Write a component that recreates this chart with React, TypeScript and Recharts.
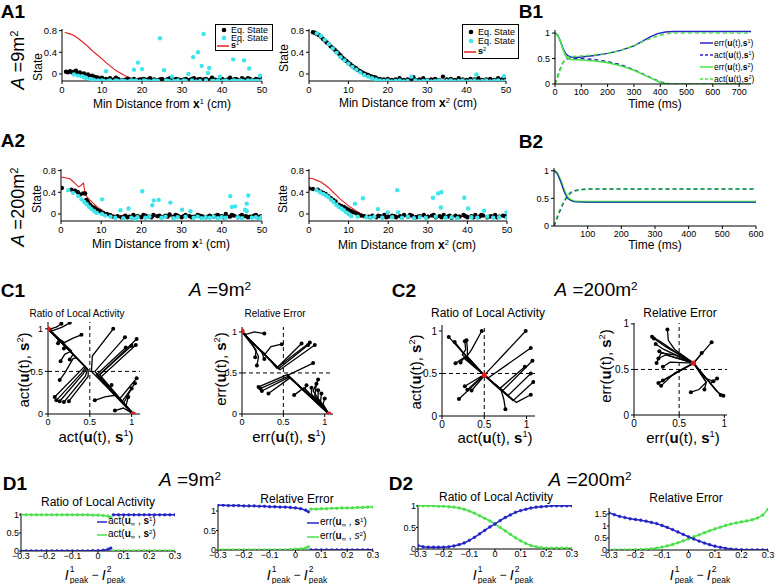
import React from 'react';
import { ComposedChart, Line, Scatter, XAxis, YAxis, ReferenceLine } from 'recharts';

const FONT = '"Liberation Sans", Arial, Helvetica, sans-serif';
const BLUE = '#2424c4';
const GREEN = '#4be04b';
const CYAN = '#3fe4ec';
const RED = '#e01e1e';

type Pt = [number, number];
const toXY = (a: Pt[]) => a.map(([x, y]) => ({ x, y }));
const zip = (xs: number[], ys: number[]) => xs.map((x, i) => ({ x, y: ys[i] }));

// ---------- A panels: equilibrium states vs distance ----------
const distTicks = [0, 10, 20, 30, 40, 50];
const stateTicks = [0, 0.4, 0.8];

const a1LBlack: Pt[] = [
  [1, 0.04], [1.5, 0.03], [2, 0.05], [2.5, 0.03], [3, 0.04], [3.5, 0.06], [4, 0.02], [4.5, 0.03], [5, 0.0], [5.5, 0.01],
  [6, -0.02], [6.5, -0.01], [7, -0.04], [7.5, -0.03], [8, -0.05], [8.5, -0.06], [9, -0.07], [10, -0.07], [11, -0.09],
  [12, -0.08], [13, -0.1], [13.5, -0.07], [14, -0.09], [15, -0.11], [15.5, -0.12], [16, -0.1], [16.5, -0.09], [17, -0.12],
  [17.5, -0.11], [18, -0.09], [18.5, -0.13], [19, -0.11], [19.5, -0.1], [20, -0.1], [20.5, -0.09], [21, -0.12], [21.5, -0.1],
  [22, -0.08], [22.5, -0.11], [23, -0.1], [23.5, -0.12], [24, -0.12], [24.5, -0.1], [25, -0.09], [25.5, -0.12], [26, -0.11],
  [26.5, -0.09], [27, -0.08], [27.5, -0.12], [28, -0.11], [28.5, -0.09], [29, -0.1], [29.5, -0.11], [30, -0.12], [30.5, -0.1],
  [31, -0.09], [31.5, -0.12], [32, -0.11], [32.5, -0.09], [33, -0.08], [33.5, -0.12], [34, -0.1], [34.5, -0.09], [35, -0.12],
  [35.5, -0.1], [36, -0.09], [36.5, -0.12], [37, -0.11], [37.5, -0.07], [38, -0.1], [38.5, -0.11], [39, -0.12], [39.5, -0.09],
  [40, -0.09], [40.5, -0.12], [41, -0.11], [41.5, -0.1], [42, -0.07], [42.5, -0.12], [43, -0.1], [43.5, -0.09], [44, -0.12],
  [44.5, -0.11], [45, -0.08], [45.5, -0.1], [46, -0.11], [46.5, -0.08], [47, -0.09], [47.5, -0.11], [48, -0.12], [48.5, -0.09],
  [49, -0.1], [49.5, -0.12], [50, -0.08],
];
const a1LCyan: Pt[] = [
  [3, -0.01], [4, -0.03], [5, -0.04], [5.5, -0.06], [6, -0.07], [7, -0.09], [7.5, -0.1], [8, -0.11], [9, -0.12], [10, -0.12],
  [10.5, -0.13], [11, 0.05], [11.5, -0.13], [12, -0.12], [13, -0.14], [13.5, -0.12], [14, -0.13], [15, -0.12], [15.5, -0.13],
  [16, -0.14], [17, -0.13], [17.5, -0.12], [18, 0.08], [18.5, -0.12], [19, 0.21], [19.5, -0.14], [20, 0.09], [20.5, -0.12],
  [21, -0.13], [21.5, -0.14], [22, -0.14], [23, -0.12], [23.5, -0.13], [24, -0.13], [24.5, 0.66], [25.5, 0.07], [26, -0.12],
  [26.5, -0.13], [27, -0.14], [27.5, -0.05], [28, -0.13], [28.5, -0.14], [29, -0.12], [30, -0.14], [30.5, -0.12], [31, -0.13],
  [31.6, 0.0], [32.5, -0.12], [32.8, 0.31], [33.5, -0.14], [34, 0.4], [34.5, -0.13], [34.9, 0.15], [35.4, 0.74], [36, -0.12],
  [36.5, 0.02], [36.8, 0.11], [37.5, -0.13], [38, -0.13], [39, -0.12], [39.5, -0.05], [40, -0.14], [40.5, -0.13], [41, -0.12],
  [41.5, -0.14], [42.8, 0.27], [42.5, -0.13], [43, -0.12], [43.5, -0.13], [44, -0.14], [44.5, -0.12], [45, -0.13],
  [45.5, 0.25], [45.5, -0.14], [46.5, -0.12], [46.8, 0.1], [47.5, -0.12], [48, -0.14], [48.5, -0.13], [49, -0.13],
  [49.5, -0.03], [50, -0.12],
];
const a1LRed: Pt[] = [
  [0.7, 0.77], [1, 0.76], [2, 0.74], [3, 0.71], [4, 0.66], [5, 0.6], [6, 0.54], [7, 0.47], [8, 0.4], [9, 0.34], [10, 0.28],
  [11, 0.21], [12, 0.15], [13, 0.09], [14, 0.04], [15, 0.0], [16, -0.04], [17, -0.07], [18, -0.09], [18.5, -0.12],
  [19, -0.08], [19.5, -0.13], [20, -0.09], [20.5, -0.12], [21, -0.08], [21.5, -0.13], [22, -0.1], [22.5, -0.12], [23, -0.08],
  [23.5, -0.13], [24, -0.09], [24.5, -0.12], [25, -0.1], [25.5, -0.13], [26, -0.08], [26.5, -0.12], [27, -0.09], [27.5, -0.13],
  [28, -0.1], [28.5, -0.12], [29, -0.08], [29.5, -0.13], [30, -0.09], [30.5, -0.12], [31, -0.1], [31.5, -0.13], [32, -0.08],
  [32.5, -0.12], [33, -0.09], [33.5, -0.13], [34, -0.1], [34.5, -0.12], [35, -0.08], [35.5, -0.13], [36, -0.09], [36.5, -0.12],
  [37, -0.1], [37.5, -0.13], [38, -0.08], [38.5, -0.12], [39, -0.09], [39.5, -0.13], [40, -0.1], [40.5, -0.12], [41, -0.08],
  [41.5, -0.13], [42, -0.09], [42.5, -0.12], [43, -0.1], [43.5, -0.13], [44, -0.08], [44.5, -0.12], [45, -0.09], [45.5, -0.13],
  [46, -0.1], [46.5, -0.12], [47, -0.08], [47.5, -0.13], [48, -0.09], [48.5, -0.12], [49, -0.1], [49.5, -0.13], [50, -0.09],
];

const a1RBlack: Pt[] = [
  [1, 0.77], [1.5, 0.76], [2, 0.74], [2.5, 0.72], [3, 0.69], [3.5, 0.65], [4, 0.62], [4.5, 0.58], [5, 0.55], [5.5, 0.51],
  [6, 0.48], [6.5, 0.45], [7, 0.41], [7.5, 0.38], [8, 0.34], [8.5, 0.3], [9, 0.27], [9.5, 0.24], [10, 0.21], [10.5, 0.18],
  [11, 0.15], [11.5, 0.12], [12, 0.1], [12.5, 0.07], [13, 0.05], [13.5, 0.03], [14, 0.01], [14.5, -0.01], [15, -0.02],
  [15.5, -0.04], [16, -0.05], [16.5, -0.06], [17, -0.07], [18, -0.09], [19, -0.1], [20, -0.09], [21, -0.11], [22, -0.1],
  [23, -0.08], [24, -0.11], [25, -0.1], [26, -0.09], [26.5, -0.06], [27, -0.11], [28, -0.1], [29, -0.08], [30, -0.11],
  [31, -0.1], [32, -0.09], [33, -0.11], [34, -0.05], [35, -0.1], [36, -0.09], [37, -0.11], [38, -0.08], [39, -0.1],
  [40, -0.11], [41, -0.09], [42, -0.1], [43, -0.08], [44, -0.11], [45, -0.1], [46, -0.09], [47, -0.11], [48, -0.08],
  [49, -0.1], [50, -0.09],
];
const a1RCyan: Pt[] = [
  [2, 0.75], [3, 0.7], [4, 0.63], [5, 0.55], [6, 0.47], [7, 0.39], [8, 0.31], [9, 0.25], [10, 0.19], [11, 0.13], [12, 0.08],
  [13, 0.03], [14, -0.02], [15, -0.05], [16, -0.08], [17, -0.1], [18, -0.12], [19, -0.13], [20, -0.12], [21, -0.14],
  [22, -0.13], [23, -0.12], [24, -0.14], [25, -0.13], [26, -0.05], [27, -0.12], [28, -0.14], [29, -0.13], [30, -0.12],
  [31, -0.14], [32, -0.13], [33, -0.12], [34, -0.14], [35, -0.13], [36, -0.12], [37, -0.14], [38, -0.13], [39, -0.12],
  [40, -0.14], [41, -0.13], [42, -0.12], [42.5, -0.01], [43, -0.14], [44, -0.13], [45, -0.12], [46, -0.14], [47, -0.13],
  [48, -0.12], [49, -0.14], [49.5, -0.04], [50, -0.13],
];
const a1RRed: Pt[] = [
  [1, 0.77], [2, 0.74], [3, 0.69], [4, 0.62], [5, 0.55], [6, 0.48], [7, 0.41], [8, 0.34], [9, 0.27], [10, 0.21], [11, 0.15],
  [12, 0.1], [13, 0.05], [14, 0.01], [15, -0.02], [16, -0.05], [17, -0.07], [18, -0.09], [19, -0.1], [20, -0.12], [21, -0.09],
  [22, -0.12], [23, -0.1], [24, -0.12], [25, -0.09], [26, -0.11], [27, -0.12], [28, -0.09], [29, -0.12], [30, -0.1],
  [31, -0.12], [32, -0.09], [33, -0.11], [34, -0.12], [35, -0.09], [36, -0.12], [37, -0.1], [38, -0.12], [39, -0.09],
  [40, -0.11], [41, -0.12], [42, -0.09], [43, -0.12], [44, -0.1], [45, -0.12], [46, -0.09], [47, -0.11], [48, -0.12],
  [49, -0.09], [50, -0.11],
];

const a2LBlack: Pt[] = [
  [0.2, 0.48], [2.6, 0.45], [3.5, 0.43], [4.2, 0.4], [4.7, 0.36], [5.5, 0.38], [6, 0.38], [6.3, 0.26], [6.6, 0.23], [6.8, 0.2],
  [7.2, 0.17], [7.6, 0.14], [8.1, 0.12], [8.5, 0.1], [9.1, 0.07], [9.7, 0.05], [10.5, 0.02], [11.4, 0.0], [12.2, -0.02],
  [13, -0.05], [14, -0.04], [15, -0.06], [16, -0.03], [16.5, -0.06], [17, -0.05], [18, -0.02], [18.5, -0.05], [19, -0.04],
  [20, -0.06], [20.5, -0.02], [21, -0.03], [22, -0.05], [22.5, -0.06], [23, -0.02], [24, -0.04], [24.5, -0.03], [25, -0.06],
  [26, -0.03], [26.5, -0.05], [27, -0.01], [28, -0.05], [28.5, -0.02], [29, -0.03], [30, -0.06], [30.5, -0.04], [31, -0.02],
  [32, -0.04], [32.5, -0.06], [33, -0.05], [34, -0.02], [34.5, -0.03], [35, -0.04], [36, -0.06], [36.5, -0.05], [37, -0.03],
  [38, -0.05], [38.5, -0.03], [39, -0.02], [40, -0.04], [40.5, -0.06], [41, 0.0], [42, -0.05], [42.5, -0.02], [43, -0.03],
  [44, -0.06], [44.5, -0.04], [45, -0.02], [46, -0.04], [46.5, -0.06], [47, -0.05], [48, -0.03], [48.5, -0.02], [49, -0.06],
  [49.5, -0.05], [50, -0.04],
];
const a2LCyan: Pt[] = [
  [1.8, 0.44], [3, 0.39], [4.3, 0.33], [5.1, 0.27], [5.8, 0.22], [6.4, 0.18], [7, 0.13], [7.6, 0.09], [8.3, 0.05], [8.9, 0.02],
  [10.2, 0.27], [10.2, 0.0], [11, -0.03], [12.3, -0.05], [13.5, -0.07], [14.8, 0.07], [15.5, -0.08], [16.8, 0.1], [17.5, -0.07],
  [18.4, -0.09], [19, -0.06], [20.2, 0.42], [21, -0.07], [22, -0.05], [22.7, 0.16], [23.1, 0.25], [24.3, 0.26], [25, -0.07],
  [26, -0.05], [27.2, 0.21], [28, -0.08], [29, -0.06], [30.1, 0.08], [31, -0.05], [32.2, 0.05], [33, -0.07], [34, -0.05],
  [35, -0.08], [36, -0.06], [37, -0.07], [38, -0.05], [39, -0.08], [40, -0.06], [41, -0.07], [42.1, 0.33], [42.5, 0.13],
  [43.3, 0.14], [44, -0.06], [45, -0.08], [45.8, 0.08], [46.2, 0.19], [46.6, 0.34], [46.2, 0.05], [47.5, -0.07], [48.5, -0.06],
  [49.5, -0.08], [50, -0.05],
];
const a2LRed: Pt[] = [
  [0.2, 0.68], [1, 0.67], [2.2, 0.65], [3, 0.6], [3.8, 0.54], [4.4, 0.5], [5, 0.53], [5.6, 0.57], [5.9, 0.42], [6.2, 0.34],
  [7, 0.27], [8, 0.2], [9, 0.13], [10, 0.08], [11, 0.03], [12, 0.0], [13, -0.02], [14, -0.04], [14.5, -0.02], [15, -0.05],
  [15.5, -0.02], [16, -0.05], [16.5, -0.03], [17, -0.06], [17.5, -0.02], [18, -0.05], [18.5, -0.03], [19, -0.05], [19.5, -0.02],
  [20, -0.06], [20.5, -0.03], [21, -0.05], [21.5, -0.02], [22, -0.05], [22.5, -0.03], [23, -0.06], [23.5, -0.02], [24, -0.05],
  [24.5, -0.03], [25, -0.05], [25.5, -0.02], [26, -0.06], [26.5, -0.03], [27, -0.05], [27.5, -0.02], [28, -0.05], [28.5, -0.03],
  [29, -0.06], [29.5, -0.02], [30, -0.05], [30.5, -0.03], [31, -0.05], [31.5, -0.02], [32, -0.06], [32.5, -0.03], [33, -0.05],
  [33.5, -0.02], [34, -0.05], [34.5, -0.03], [35, -0.06], [35.5, -0.02], [36, -0.05], [36.5, -0.03], [37, -0.05], [37.5, -0.02],
  [38, -0.06], [38.5, -0.03], [39, -0.05], [39.5, -0.02], [40, -0.05], [40.5, -0.03], [41, -0.06], [41.5, -0.02], [42, -0.05],
  [42.5, -0.03], [43, -0.05], [43.5, -0.02], [44, -0.06], [44.5, -0.03], [45, -0.05], [45.5, -0.02], [46, -0.05], [46.5, -0.03],
  [47, -0.06], [47.5, -0.02], [48, -0.05], [48.5, -0.03], [49, -0.05], [49.5, -0.02], [50, -0.05],
];

const a2RBlack: Pt[] = [
  [0, 0.47], [1, 0.46], [2.2, 0.45], [3, 0.41], [3.6, 0.39], [4.2, 0.37], [4.9, 0.33], [5.5, 0.29], [6.1, 0.26], [6.7, 0.23],
  [7.5, 0.17], [8.1, 0.15], [8.8, 0.13], [9.4, 0.1], [10, 0.08], [10.7, 0.05], [11.3, 0.03], [12, 0.01], [12.5, -0.01],
  [13.2, -0.03], [14, -0.04], [15, -0.05], [15.5, -0.06], [16, -0.03], [17, -0.06], [17.5, -0.03], [18, -0.04], [19, -0.02],
  [19.5, -0.06], [20, -0.05], [21, -0.03], [21.5, -0.04], [22, -0.06], [23, -0.04], [23.5, -0.06], [24, -0.02], [25, -0.05],
  [25.5, -0.02], [26, -0.03], [27, -0.06], [27.5, -0.05], [28, -0.04], [29, -0.02], [29.5, -0.06], [30, -0.05], [31, -0.03],
  [31.5, -0.02], [32, -0.06], [33, -0.04], [33.5, -0.06], [34, -0.02], [35, -0.05], [35.5, -0.03], [36, -0.07], [37, -0.03],
  [37.5, -0.07], [38, -0.05], [39, -0.02], [39.5, -0.04], [40, -0.06], [41, -0.04], [41.5, -0.06], [42, -0.02], [43, -0.05],
  [43.5, -0.02], [44, -0.03], [45, -0.06], [45.5, -0.05], [46, -0.04], [47, -0.02], [47.5, -0.06], [48, -0.05], [49, -0.03],
  [49.5, -0.04], [50, -0.06],
];
const a2RCyan: Pt[] = [
  [1.9, 0.44], [2.8, 0.4], [3.6, 0.37], [4.3, 0.34], [4.9, 0.31], [5.6, 0.26], [6.2, 0.22], [6.9, 0.17], [7.5, 0.13], [8.2, 0.1],
  [8.8, 0.07], [9.4, 0.03], [10, 0.0], [10.7, -0.04], [11.6, 0.19], [12.3, -0.05], [13.6, 0.29], [14.5, -0.06], [15.5, -0.07],
  [16.5, -0.05], [17.4, 0.09], [18.5, -0.07], [19.9, 0.03], [21, -0.06], [22.3, 0.44], [22.5, 0.03], [23.5, -0.07], [25, -0.05],
  [26.5, -0.08], [28, -0.06], [29.5, -0.07], [31.3, 0.3], [32, -0.05], [32.6, 0.38], [33.4, 0.4], [33.3, 0.12], [34.5, -0.07],
  [36, -0.06], [37.5, -0.08], [39.2, 0.3], [40.2, 0.1], [41, -0.06], [42.5, -0.07], [44.2, 0.06], [45, -0.05], [46.5, -0.07],
  [48, -0.06], [49.9, 0.03], [50, -0.07],
];
const a2RRed: Pt[] = [
  [0, 0.66], [1, 0.65], [2, 0.62], [3, 0.59], [4, 0.54], [5, 0.48], [6, 0.41], [7, 0.34], [8, 0.27], [9, 0.21], [10, 0.15],
  [11, 0.1], [12, 0.05], [13, 0.01], [14, -0.02], [14.5, -0.05], [15, -0.03], [15.5, -0.06], [16, -0.02], [16.5, -0.05],
  [17, -0.03], [17.5, -0.06], [18, -0.02], [18.5, -0.05], [19, -0.03], [19.5, -0.06], [20, -0.02], [20.5, -0.05], [21, -0.03],
  [21.5, -0.06], [22, -0.02], [22.5, -0.05], [23, -0.03], [23.5, -0.06], [24, -0.02], [24.5, -0.05], [25, -0.03], [25.5, -0.06],
  [26, -0.02], [26.5, -0.05], [27, -0.03], [27.5, -0.06], [28, -0.02], [28.5, -0.05], [29, -0.03], [29.5, -0.06], [30, -0.02],
  [30.5, -0.05], [31, -0.03], [31.5, -0.06], [32, -0.02], [32.5, -0.05], [33, -0.03], [33.5, -0.06], [34, -0.02], [34.5, -0.05],
  [35, -0.03], [35.5, -0.06], [36, -0.02], [36.5, -0.05], [37, -0.03], [37.5, -0.06], [38, -0.02], [38.5, -0.05], [39, -0.03],
  [39.5, -0.06], [40, -0.02], [40.5, -0.05], [41, -0.03], [41.5, -0.06], [42, -0.02], [42.5, -0.05], [43, -0.03], [43.5, -0.06],
  [44, -0.02], [44.5, -0.05], [45, -0.03], [45.5, -0.06], [46, -0.02], [46.5, -0.05], [47, -0.03], [47.5, -0.06], [48, -0.02],
  [48.5, -0.05], [49, -0.03], [49.5, -0.06], [50, -0.03],
];

// ---------- B panels: time courses ----------
const b1Err1: Pt[] = [[0, 1], [10, 0.96], [20, 0.85], [30, 0.7], [40, 0.6], [50, 0.55], [60, 0.53], [80, 0.52], [100, 0.53], [150, 0.56], [200, 0.6], [250, 0.66], [300, 0.75], [330, 0.83], [360, 0.92], [390, 0.99], [420, 1.02], [450, 1.03], [500, 1.03], [745, 1.03]];
const b1Act1: Pt[] = [[0, 0], [10, 0.15], [20, 0.3], [30, 0.42], [40, 0.48], [50, 0.5], [80, 0.5], [100, 0.5], [150, 0.48], [200, 0.44], [250, 0.38], [300, 0.28], [350, 0.16], [400, 0.04], [430, 0.01], [450, 0], [745, 0]];
const b1Err2: Pt[] = [[0, 1], [10, 0.97], [20, 0.85], [30, 0.68], [40, 0.56], [50, 0.5], [60, 0.48], [100, 0.47], [150, 0.45], [200, 0.42], [250, 0.36], [300, 0.27], [350, 0.15], [400, 0.03], [430, 0.0], [745, 0]];
const b1Act2: Pt[] = [[0, 0], [10, 0.12], [20, 0.28], [30, 0.42], [40, 0.5], [50, 0.53], [100, 0.55], [150, 0.57], [200, 0.6], [250, 0.66], [300, 0.75], [350, 0.87], [400, 0.96], [430, 0.99], [450, 1.0], [745, 1.0]];

const b2Err2: Pt[] = [[0, 1], [5, 0.99], [10, 0.95], [20, 0.82], [30, 0.65], [40, 0.52], [50, 0.47], [60, 0.45], [80, 0.44], [100, 0.44], [600, 0.44]];
const b2Err1: Pt[] = [[0, 1], [10, 0.95], [20, 0.8], [30, 0.62], [40, 0.5], [50, 0.46], [60, 0.44], [100, 0.43], [600, 0.43]];
const b2Act2: Pt[] = [[0, 0], [5, 0.08], [10, 0.17], [20, 0.33], [30, 0.45], [40, 0.54], [50, 0.6], [60, 0.63], [80, 0.66], [100, 0.67], [600, 0.67]];
const b2Act1: Pt[] = [[0, 0], [10, 0.15], [20, 0.3], [30, 0.44], [40, 0.55], [50, 0.61], [60, 0.64], [80, 0.66], [100, 0.67], [600, 0.67]];

// ---------- C panels: trajectories (first point = start) ----------
const c1ActPaths: Pt[][] = [
  [[0.16, 1.06], [0.1, 1.02], [0.03, 1.0], [0, 1]],
  [[0.26, 1.07], [0.17, 1.02], [0.06, 0.98], [0, 1]],
  [[0.4, 0.93], [0.3, 0.89], [0.2, 0.84], [0.12, 0.89], [0, 1]],
  [[0.12, 0.83], [0.12, 0.88], [0.06, 0.95], [0, 1]],
  [[0.19, 0.77], [0.2, 0.82], [0.08, 0.93], [0, 1]],
  [[0.15, 0.62], [0.2, 0.7], [0.28, 0.74], [0, 1]],
  [[0.26, 0.64], [0.3, 0.7], [0, 1]],
  [[0.14, 0.4], [0.2, 0.48], [0.3, 0.65], [0.34, 0.66], [0, 1]],
  [[0.08, 0.2], [0.38, 0.5], [0.44, 0.56], [0, 1]],
  [[0.1, 0.16], [0.4, 0.48], [0.45, 0.55], [0, 1]],
  [[0.14, 0.15], [0.42, 0.47], [0.46, 0.54], [0, 1]],
  [[0.19, 0.14], [0.45, 0.45], [0.47, 0.53], [0, 1]],
  [[0.25, 0.15], [0.48, 0.44], [0.48, 0.52], [0, 1]],
  [[0.78, 1.0], [0.53, 0.68], [0.52, 0.5], [1.02, 0]],
  [[0.92, 0.9], [0.56, 0.5], [1.02, 0]],
  [[1.06, 0.88], [0.62, 0.46], [1.02, 0]],
  [[1.05, 0.81], [0.63, 0.43], [1.02, 0]],
  [[1.0, 0.8], [0.6, 0.45], [1.02, 0]],
  [[0.93, 0.78], [0.58, 0.46], [1.02, 0]],
  [[1.06, 0.42], [0.85, 0.17], [1.02, 0]],
  [[1.04, 0.36], [0.88, 0.14], [1.02, 0]],
  [[1.0, 0.3], [0.9, 0.12], [1.02, 0]],
  [[0.96, 0.2], [0.93, 0.09], [1.02, 0]],
  [[0.76, 0.34], [0.74, 0.28], [1.02, 0]],
  [[0.56, 0.16], [0.68, 0.2], [0.8, 0.22], [1.02, 0]],
  [[0.8, 0.04], [0.9, 0.07], [1.02, 0]],
];
const c1ActFixed: Pt[] = [[0, 1], [1.02, 0]];

const c1ErrPaths: Pt[][] = [
  [[0.27, 0.98], [0.15, 1.0], [0.05, 0.97], [0, 1]],
  [[0.48, 0.85], [0.35, 0.82], [0.28, 0.73], [0.2, 0.8], [0, 1]],
  [[0.16, 0.69], [0.17, 0.78], [0, 1]],
  [[0.18, 0.59], [0.2, 0.7], [0.12, 0.86], [0, 1]],
  [[0.27, 0.67], [0.24, 0.75], [0, 1]],
  [[0.72, 0.86], [0.42, 0.56], [0.3, 0.7], [0, 1]],
  [[0.8, 0.84], [0.44, 0.55], [0, 1]],
  [[0.88, 0.84], [0.46, 0.54], [0, 1]],
  [[0.82, 0.87], [0.43, 0.57], [0, 1]],
  [[0.86, 0.62], [0.55, 0.47], [1.05, 0]],
  [[0.2, 0.33], [0.55, 0.48], [1.05, 0]],
  [[0.22, 0.31], [0.56, 0.46], [1.05, 0]],
  [[0.24, 0.28], [0.57, 0.45], [1.05, 0]],
  [[0.32, 0.25], [0.58, 0.44], [1.05, 0]],
  [[0.63, 0.23], [0.75, 0.32], [1.05, 0]],
  [[0.78, 0.35], [0.76, 0.3], [1.05, 0]],
  [[0.84, 0.32], [0.84, 0.24], [1.05, 0]],
  [[0.9, 0.37], [0.88, 0.22], [1.05, 0]],
  [[0.92, 0.29], [0.92, 0.18], [1.05, 0]],
  [[0.96, 0.25], [0.95, 0.15], [1.05, 0]],
  [[1.0, 0.19], [0.98, 0.12], [1.05, 0]],
  [[0.92, 0.42], [0.86, 0.28], [1.05, 0]],
];
const c1ErrFixed: Pt[] = [[0, 1.01], [1.05, 0]];

const c2ActPaths: Pt[][] = [
  [[0.08, 0.93], [0.25, 0.74], [0.5, 0.48]],
  [[0.15, 0.87], [0.24, 0.76], [0.5, 0.48]],
  [[0.27, 0.88], [0.28, 0.78], [0.24, 0.72], [0.5, 0.48]],
  [[0.29, 0.89], [0.3, 0.8], [0.3, 0.7], [0.5, 0.48]],
  [[0.47, 1.0], [0.35, 0.78], [0.28, 0.68], [0.5, 0.48]],
  [[0.16, 0.62], [0.22, 0.66], [0.28, 0.7], [0.5, 0.48]],
  [[0.22, 0.63], [0.26, 0.68], [0.5, 0.48]],
  [[0.99, 1.0], [0.5, 0.48]],
  [[1.05, 0.8], [0.55, 0.45], [0.5, 0.48]],
  [[1.07, 0.65], [0.72, 0.3], [0.5, 0.48]],
  [[1.05, 0.5], [0.78, 0.24], [0.5, 0.48]],
  [[1.08, 0.4], [0.84, 0.18], [0.5, 0.48]],
  [[1.05, 0.25], [0.88, 0.16], [0.5, 0.48]],
  [[0.98, 0.58], [0.68, 0.32], [0.5, 0.48]],
  [[0.2, 0.2], [0.48, 0.46]],
  [[0.3, 0.31], [0.48, 0.47]],
  [[0.35, 0.3], [0.49, 0.46]],
  [[0.27, 0.35], [0.47, 0.47]],
  [[0.75, 0.08], [0.73, 0.2], [0.7, 0.3], [0.5, 0.48]],
];
const c2ActFixed: Pt[] = [[0.5, 0.48]];

const c2ErrPaths: Pt[][] = [
  [[0.37, 0.94], [0.38, 0.82], [0.45, 0.72], [0.66, 0.57]],
  [[0.2, 0.86], [0.3, 0.8], [0.45, 0.7], [0.66, 0.57]],
  [[0.22, 0.84], [0.35, 0.75], [0.66, 0.57]],
  [[0.24, 0.78], [0.33, 0.72], [0.66, 0.57]],
  [[0.25, 0.57], [0.3, 0.68], [0.45, 0.66], [0.66, 0.57]],
  [[0.27, 0.62], [0.35, 0.66], [0.66, 0.57]],
  [[0.32, 0.53], [0.4, 0.58], [0.66, 0.57]],
  [[0.28, 0.7], [0.4, 0.65], [0.66, 0.57]],
  [[0.27, 0.35], [0.66, 0.57]],
  [[0.3, 0.32], [0.45, 0.46], [0.66, 0.57]],
  [[0.32, 0.38], [0.66, 0.57]],
  [[0.86, 0.8], [0.66, 0.57]],
  [[0.75, 0.68], [0.66, 0.57]],
  [[0.92, 0.4], [0.85, 0.35], [0.75, 0.45], [0.66, 0.57]],
  [[0.88, 0.37], [0.8, 0.4], [0.66, 0.57]],
  [[0.78, 0.28], [0.8, 0.36], [0.66, 0.57]],
  [[0.63, 0.25], [0.72, 0.28], [0.8, 0.36], [0.66, 0.57]],
  [[0.96, 0.22], [0.9, 0.28], [0.66, 0.57]],
  [[0.99, 0.21], [0.93, 0.25], [0.66, 0.57]],
];
const c2ErrFixed: Pt[] = [[0.66, 0.57]];

// ---------- D panels: steady state vs input difference ----------
const dTicks = [-0.3, -0.2, -0.1, 0, 0.1, 0.2, 0.3];
const dAllX = [-0.3, -0.28, -0.26, -0.24, -0.22, -0.2, -0.18, -0.16, -0.14, -0.12, -0.1, -0.08, -0.06, -0.04, -0.02, 0, 0.02, 0.04, 0.06, 0.08, 0.1, 0.12, 0.14, 0.16, 0.18, 0.2, 0.22, 0.24, 0.26, 0.28, 0.3];
const dLoX = [-0.3, -0.28, -0.26, -0.24, -0.22, -0.2, -0.18, -0.16, -0.14, -0.12, -0.1, -0.08, -0.06, -0.04, -0.02, 0, 0.02, 0.04, 0.05];
const dHiX = [0.06, 0.08, 0.1, 0.12, 0.14, 0.16, 0.18, 0.2, 0.22, 0.24, 0.26, 0.28, 0.3];

const d1ActGreenLo = [1, 1, 1, 1, 1, 1, 1, 1, 1, 1, 1, 1, 1, 1, 0.99, 0.99, 0.98, 0.96, 0.93];
const d1ActBlueLo = [0, 0, 0, 0, 0, 0, 0, 0, 0, 0, 0, 0, 0, 0, 0.01, 0.01, 0.02, 0.05, 0.08];
const d1ActBlueHi = [1, 1, 1, 1, 1, 1, 1, 1, 1, 1, 1, 1, 1];
const d1ActGreenHi = [0, 0, 0, 0, 0, 0, 0, 0, 0, 0, 0, 0, 0];

const d1ErrBlueLo = [1.15, 1.15, 1.14, 1.14, 1.14, 1.13, 1.13, 1.13, 1.12, 1.12, 1.11, 1.11, 1.1, 1.1, 1.09, 1.08, 1.06, 1.02, 0.98];
const d1ErrGreenLo = [0, 0, 0, 0, 0, 0, 0, 0, 0, 0, 0, 0, 0, 0, 0.01, 0.02, 0.03, 0.05, 0.08];
const d1ErrGreenHi = [1.05, 1.05, 1.06, 1.06, 1.07, 1.07, 1.08, 1.08, 1.08, 1.09, 1.09, 1.1, 1.1];
const d1ErrBlueHi = [0, 0, 0, 0, 0, 0, 0, 0, 0, 0, 0, 0, 0];

const d2ActGreen = [1, 1, 1, 1, 0.99, 0.99, 0.98, 0.97, 0.95, 0.92, 0.88, 0.83, 0.77, 0.71, 0.65, 0.58, 0.5, 0.42, 0.34, 0.26, 0.19, 0.13, 0.08, 0.05, 0.03, 0.02, 0.02, 0.02, 0.02, 0.02, 0.02];
const d2ActBlue = [0.08, 0.05, 0.04, 0.04, 0.04, 0.04, 0.05, 0.07, 0.1, 0.14, 0.2, 0.27, 0.35, 0.43, 0.51, 0.58, 0.66, 0.73, 0.79, 0.85, 0.89, 0.92, 0.95, 0.97, 0.98, 0.99, 1, 1, 1, 1, 1];
const d2ErrBlue = [1.55, 1.47, 1.4, 1.35, 1.3, 1.27, 1.24, 1.2, 1.15, 1.1, 1.02, 0.94, 0.85, 0.75, 0.65, 0.55, 0.46, 0.37, 0.29, 0.22, 0.16, 0.11, 0.07, 0.04, 0.02, 0.01, 0, 0, 0, 0, 0];
const d2ErrGreen = [0, 0, 0, 0, 0, 0.01, 0.02, 0.03, 0.05, 0.08, 0.12, 0.17, 0.23, 0.3, 0.38, 0.46, 0.55, 0.63, 0.72, 0.8, 0.88, 0.95, 1.02, 1.08, 1.13, 1.17, 1.21, 1.26, 1.33, 1.45, 1.7];

// ---------- helpers ----------
interface Box { x0: number; x1: number; y0: number; y1: number }

const fmt = (v: number) => String(v).replace('-', '\u2212');

function Plot(props: {
  box: Box; xd: [number, number]; xt: number[]; yd: [number, number]; yt: number[];
  fs: number; children?: React.ReactNode; yw?: number; xh?: number; tm?: number; ts?: number;
}) {
  const { box, xd, xt, yd, yt, fs, children, yw = 30, xh = 22, tm = 2, ts = 3 } = props;
  const pad = 10;
  const W = box.x1 - box.x0 + yw + pad;
  const H = box.y1 - box.y0 + pad + xh;
  const tick = { fill: '#000', fontSize: fs, fontFamily: FONT };
  const line = { stroke: '#000', strokeWidth: 1 };
  return (
    <div style={{ position: 'absolute', left: box.x0 - yw, top: box.y0 - pad }}>
      <ComposedChart width={W} height={H} margin={{ top: pad, right: pad, left: 0, bottom: 0 }}>
        <XAxis type="number" dataKey="x" domain={xd} ticks={xt} interval={0} allowDataOverflow height={xh}
          tick={tick} tickSize={ts} tickMargin={tm} axisLine={line} tickLine={line} tickFormatter={fmt} />
        <YAxis type="number" dataKey="y" domain={yd} ticks={yt} interval={0} allowDataOverflow width={yw}
          tick={tick} tickSize={ts} tickMargin={tm} axisLine={line} tickLine={line} tickFormatter={fmt} />
        {children}
      </ComposedChart>
    </div>
  );
}

const dot = (r: number, c: string) => (p: any) => <circle cx={p.cx} cy={p.cy} r={r} fill={c} />;

function scatter(key: string, pts: Pt[], c: string, r = 2.2) {
  return <Scatter key={key} data={toXY(pts)} fill={c} shape={dot(r, c)} isAnimationActive={false} />;
}
function curve(key: string, pts: { x: number; y: number }[], c: string, w = 1.5, dash?: string, marker = false) {
  return (
    <Line key={key} data={pts} dataKey="y" type="linear" stroke={c} strokeWidth={w} strokeDasharray={dash}
      dot={marker ? { r: 1.4, fill: c, stroke: c, strokeWidth: 0.5 } : false} isAnimationActive={false} />
  );
}
function trajectories(paths: Pt[][], fixed: Pt[]) {
  return [
    ...paths.map((p, i) => curve('t' + i, toXY(p), '#000', 1.3)),
    scatter('starts', paths.map((p) => p[0]), '#000', 2),
    scatter('fixed', fixed, '#e41a1a', 2.6),
  ];
}
const dashes = [
  <ReferenceLine key="rx" x={0.5} stroke="#000" strokeDasharray="4 3" strokeWidth={1} />,
  <ReferenceLine key="ry" y={0.5} stroke="#000" strokeDasharray="4 3" strokeWidth={1} />,
];

function T(props: { x: number; y: number; size: number; rot?: number; bold?: boolean; children: React.ReactNode }) {
  const { x, y, size, rot, bold, children } = props;
  return (
    <div style={{
      position: 'absolute', left: x, top: y, transform: `translate(-50%, -50%)${rot ? ` rotate(${rot}deg)` : ''}`,
      fontSize: size, fontFamily: FONT, fontWeight: bold ? 700 : 400, whiteSpace: 'nowrap', lineHeight: 1, color: '#000',
    }}>{children}</div>
  );
}

const Sup = ({ c }: { c: string }) => <span style={{ fontSize: '0.62em', verticalAlign: '0.55em' }}>{c}</span>;
const Sub = ({ c }: { c: string }) => <span style={{ fontSize: '0.62em', verticalAlign: '-0.3em' }}>{c}</span>;
const Area = ({ v }: { v: string }) => <span><i>A</i> ={v}m<Sup c="2" /></span>;

function Ipeak({ n }: { n: string }) {
  return (
    <span style={{ display: 'inline-flex', alignItems: 'center' }}>
      <i style={{ fontSize: 14 }}>I</i>
      <span style={{ display: 'inline-flex', flexDirection: 'column', fontSize: 8.5, lineHeight: 1, marginLeft: 1 }}>
        <span style={{ marginBottom: 2 }}>{n}</span><span>peak</span>
      </span>
    </span>
  );
}
const IDiff = () => <span style={{ display: 'inline-flex', alignItems: 'center' }}><Ipeak n="1" />&nbsp;−&nbsp;<Ipeak n="2" /></span>;

function LegLine(props: { x: number; y: number; w: number; color: string; dash?: string; size: number; children: React.ReactNode }) {
  const { x, y, w, color, dash, size, children } = props;
  return (
    <div style={{ position: 'absolute', left: x, top: y - size * 0.55, height: size * 1.1, display: 'flex', alignItems: 'center', fontFamily: FONT, fontSize: size, whiteSpace: 'nowrap', lineHeight: 1 }}>
      <svg width={w} height={6} style={{ marginRight: 1 }}>
        <line x1={0} y1={3} x2={w} y2={3} stroke={color} strokeWidth={1.5} strokeDasharray={dash} />
      </svg>
      {children}
    </div>
  );
}

function ABox(props: { x: number; y: number; w: number; h: number; rows: number[]; s: React.ReactNode }) {
  const { x, y, w, h, rows, s } = props;
  const row = (yy: number, mark: React.ReactNode, label: React.ReactNode) => (
    <div style={{ position: 'absolute', left: 1, top: yy - y - 4.5, height: 9, display: 'flex', alignItems: 'center', fontSize: 9, fontFamily: FONT, whiteSpace: 'nowrap', lineHeight: 1 }}>
      <svg width={12} height={8} style={{ marginRight: 2 }}>{mark}</svg>{label}
    </div>
  );
  return (
    <div style={{ position: 'absolute', left: x, top: y, width: w, height: h, border: '1px solid #000', background: '#fff', overflow: 'hidden' }}>
      {row(rows[0], <circle cx={7} cy={4} r={2.3} fill="#000" />, 'Eq. State')}
      {row(rows[1], <circle cx={7} cy={4} r={2.3} fill={CYAN} />, 'Eq. State')}
      {row(rows[2], <line x1={0} y1={4} x2={12} y2={4} stroke={RED} strokeWidth={1.5} />, s)}
    </div>
  );
}

const actLbl = (k: string) => <span>act(<b>u</b>(t), <b>s</b><Sup c={k} />)</span>;
const errLbl = (k: string) => <span>err(<b>u</b>(t), <b>s</b><Sup c={k} />)</span>;
const actInf = (k: string) => <span>act(<b>u</b><Sub c="∞" /> , <b>s</b><Sup c={k} />)</span>;
const errInf = (k: string, it?: boolean) => <span>err(<b>u</b><Sub c="∞" /> , {it ? <i>s</i> : <b>s</b>}<Sup c={k} />)</span>;
const bLbl = (f: string, k: string) => <span>{f}(<b>u</b>(t),<b>s</b><Sup c={k} />)</span>;

export default function App() {
  const a1Box = { y0: 29, y1: 81 };
  const a2Box = { y0: 169, y1: 221 };
  const aYd: [number, number] = [-0.13, 0.83];
  const aXd: [number, number] = [0, 50];
  const cT = [0, 0.5, 1];

  return (
    <div style={{ position: 'absolute', left: 0, top: 0, width: 776, height: 584, background: '#fff', overflow: 'hidden', fontFamily: FONT }}>
      {/* A1 */}
      <Plot box={{ x0: 62, x1: 262, ...a1Box }} xd={aXd} xt={distTicks} yd={aYd} yt={stateTicks} fs={9.5}>
        {scatter('b', a1LBlack, '#000')}
        {scatter('c', a1LCyan, CYAN)}
        {curve('r', toXY(a1LRed), RED, 1.1)}
      </Plot>
      <Plot box={{ x0: 309, x1: 506, ...a1Box }} xd={aXd} xt={distTicks} yd={aYd} yt={stateTicks} fs={9.5}>
        {scatter('b', a1RBlack, '#000')}
        {scatter('c', a1RCyan, CYAN)}
        {curve('r', toXY(a1RRed), RED, 1.1)}
      </Plot>
      {/* A2 */}
      <Plot box={{ x0: 61, x1: 262, ...a2Box }} xd={aXd} xt={distTicks} yd={aYd} yt={stateTicks} fs={9.5}>
        {scatter('b', a2LBlack, '#000')}
        {scatter('c', a2LCyan, CYAN)}
        {curve('r', toXY(a2LRed), RED, 1.1)}
      </Plot>
      <Plot box={{ x0: 309, x1: 507, ...a2Box }} xd={aXd} xt={distTicks} yd={aYd} yt={stateTicks} fs={9.5}>
        {scatter('b', a2RBlack, '#000')}
        {scatter('c', a2RCyan, CYAN)}
        {curve('r', toXY(a2RRed), RED, 1.1)}
      </Plot>
      {/* B1 */}
      <Plot box={{ x0: 555, x1: 751, y0: 30, y1: 84 }} xd={[0, 745]} xt={[0, 100, 200, 300, 400, 500, 600, 700]} yd={[0, 1.06]} yt={[0, 0.5, 1]} fs={9}>
        {curve('e1', toXY(b1Err1), BLUE, 1.4)}
        {curve('a1', toXY(b1Act1), BLUE, 1.4, '4 3')}
        {curve('e2', toXY(b1Err2), GREEN, 1.6)}
        {curve('a2', toXY(b1Act2), GREEN, 1.6, '4 3')}
      </Plot>
      {/* B2 */}
      <Plot box={{ x0: 554, x1: 756, y0: 168, y1: 226 }} xd={[0, 600]} xt={[100, 200, 300, 400, 500, 600]} yd={[0, 1.05]} yt={[0, 0.5, 1]} fs={9}>
        {curve('e2', toXY(b2Err2), GREEN, 2)}
        {curve('a2', toXY(b2Act2), GREEN, 2, '4 3')}
        {curve('e1', toXY(b2Err1), BLUE, 1.1)}
        {curve('a1', toXY(b2Act1), '#1d5f8f', 1.1, '4 3')}
      </Plot>
      {/* C1 */}
      <Plot box={{ x0: 48, x1: 140, y0: 322, y1: 414 }} xd={[0, 1.1]} xt={cT} yd={[0, 1.08]} yt={cT} fs={9}>
        {dashes}
        {trajectories(c1ActPaths, c1ActFixed)}
      </Plot>
      <Plot box={{ x0: 242, x1: 333, y0: 327, y1: 414 }} xd={[0, 1.1]} xt={cT} yd={[0, 1.06]} yt={cT} fs={9}>
        {dashes}
        {trajectories(c1ErrPaths, c1ErrFixed)}
      </Plot>
      {/* C2 */}
      <Plot box={{ x0: 442, x1: 535, y0: 325, y1: 416 }} xd={[0, 1.1]} xt={cT} yd={[0, 1.07]} yt={cT} fs={10}>
        {dashes}
        {trajectories(c2ActPaths, c2ActFixed)}
      </Plot>
      <Plot box={{ x0: 634, x1: 727, y0: 323, y1: 415 }} xd={[0, 1.03]} xt={cT} yd={[0, 1.01]} yt={cT} fs={10}>
        {dashes}
        {trajectories(c2ErrPaths, c2ErrFixed)}
      </Plot>
      {/* D1 */}
      <Plot box={{ x0: 21, x1: 175, y0: 513, y1: 551 }} xd={[-0.3, 0.3]} xt={dTicks} yd={[0, 1.05]} yt={[0, 0.5, 1]} fs={9} ts={2} tm={0}>
        {curve('gl', zip(dLoX, d1ActGreenLo), GREEN, 1.5, undefined, true)}
        {curve('bl', zip(dLoX, d1ActBlueLo), BLUE, 1.5, undefined, true)}
        {curve('bh', zip(dHiX, d1ActBlueHi), BLUE, 1.5, undefined, true)}
        {curve('gh', zip(dHiX, d1ActGreenHi), GREEN, 1.5, undefined, true)}
      </Plot>
      <Plot box={{ x0: 218, x1: 373, y0: 504, y1: 550 }} xd={[-0.3, 0.3]} xt={dTicks} yd={[0, 1.18]} yt={[0, 0.5, 1]} fs={9} ts={2} tm={0}>
        {curve('bl', zip(dLoX, d1ErrBlueLo), BLUE, 1.5, undefined, true)}
        {curve('gl', zip(dLoX, d1ErrGreenLo), GREEN, 1.5, undefined, true)}
        {curve('gh', zip(dHiX, d1ErrGreenHi), GREEN, 1.5, undefined, true)}
        {curve('bh', zip(dHiX, d1ErrBlueHi), BLUE, 1.5, undefined, true)}
      </Plot>
      {/* D2 */}
      <Plot box={{ x0: 418, x1: 572, y0: 505, y1: 549 }} xd={[-0.3, 0.3]} xt={dTicks} yd={[0, 1.02]} yt={[0, 0.5, 1]} fs={9} ts={2} tm={0}>
        {curve('g', zip(dAllX, d2ActGreen), GREEN, 1.5, undefined, true)}
        {curve('b', zip(dAllX, d2ActBlue), BLUE, 1.5, undefined, true)}
      </Plot>
      <Plot box={{ x0: 609, x1: 768, y0: 508, y1: 550 }} xd={[-0.3, 0.3]} xt={dTicks} yd={[0, 1.75]} yt={[0, 0.5, 1, 1.5]} fs={9} ts={2} tm={0}>
        {curve('g', zip(dAllX, d2ErrGreen), GREEN, 1.5, undefined, true)}
        {curve('b', zip(dAllX, d2ErrBlue), BLUE, 1.5, undefined, true)}
      </Plot>

      {/* panel letters */}
      <T x={13} y={11} size={19} bold>A1</T>
      <T x={531} y={11} size={19} bold>B1</T>
      <T x={13} y={140} size={19} bold>A2</T>
      <T x={531} y={141} size={19} bold>B2</T>
      <T x={13} y={290} size={19} bold>C1</T>
      <T x={404} y={290} size={19} bold>C2</T>
      <T x={15} y={483} size={19} bold>D1</T>
      <T x={401} y={483} size={19} bold>D2</T>

      {/* area labels */}
      <T x={18} y={60} size={18} rot={-90}><Area v="9" /></T>
      <T x={18} y={207} size={18} rot={-90}><Area v="200" /></T>
      <T x={220} y={290} size={19}><Area v="9" /></T>
      <T x={596} y={290} size={19}><Area v="200" /></T>
      <T x={190} y={480} size={19}><Area v="9" /></T>
      <T x={590} y={480} size={19}><Area v="200" /></T>

      {/* A axis titles */}
      <T x={38} y={67} size={12} rot={-90}>State</T>
      <T x={284} y={58} size={12} rot={-90}>State</T>
      <T x={37} y={199} size={12} rot={-90}>State</T>
      <T x={283} y={199} size={12} rot={-90}>State</T>
      <T x={162} y={104} size={12}>Min Distance from <b>x</b><Sup c="1" /> (cm)</T>
      <T x={408} y={103} size={12}>Min Distance from <b>x</b><Sup c="2" /> (cm)</T>
      <T x={161} y={244} size={12}>Min Distance from <b>x</b><Sup c="1" /> (cm)</T>
      <T x={407} y={245} size={12}>Min Distance from <b>x</b><Sup c="2" /> (cm)</T>

      {/* A legends */}
      <ABox x={215} y={24} w={56} h={25} rows={[29, 37, 45]} s={<span><b>s</b><Sup c="1" /></span>} />
      <ABox x={462} y={24} w={55} h={33} rows={[31, 40, 51]} s={<span><b>s</b><Sup c="2" /></span>} />

      {/* B titles + legend */}
      <T x={655} y={104} size={12}>Time (ms)</T>
      <T x={655} y={245} size={12}>Time (ms)</T>
      <LegLine x={700} y={43} w={13} color={BLUE} size={8.5}>{bLbl('err', '1')}</LegLine>
      <LegLine x={700} y={55} w={13} color={BLUE} dash="3 2" size={8.5}>{bLbl('act', '1')}</LegLine>
      <LegLine x={700} y={67} w={13} color={GREEN} size={8.5}>{bLbl('err', '2')}</LegLine>
      <LegLine x={700} y={79} w={13} color={GREEN} dash="3 2" size={8.5}>{bLbl('act', '2')}</LegLine>

      {/* C titles */}
      <T x={77} y={314} size={10}>Ratio of Local Activity</T>
      <T x={275} y={314} size={10}>Relative Error</T>
      <T x={488} y={313} size={12}>Ratio of Local Activity</T>
      <T x={680} y={313} size={12}>Relative Error</T>
      <T x={96} y={436} size={15}>{actLbl('1')}</T>
      <T x={289} y={436} size={15}>{errLbl('1')}</T>
      <T x={495} y={437} size={15}>{actLbl('1')}</T>
      <T x={683} y={437} size={15}>{errLbl('1')}</T>
      <T x={23} y={370} size={15} rot={-90}>{actLbl('2')}</T>
      <T x={220} y={369} size={15} rot={-90}>{errLbl('2')}</T>
      <T x={415} y={372} size={15} rot={-90}>{actLbl('2')}</T>
      <T x={605} y={366} size={15} rot={-90}>{errLbl('2')}</T>

      {/* D titles, labels, legends */}
      <T x={98} y={502} size={12}>Ratio of Local Activity</T>
      <T x={297} y={499} size={12}>Relative Error</T>
      <T x={496} y={497} size={12}>Ratio of Local Activity</T>
      <T x={686} y={498} size={12}>Relative Error</T>
      <T x={95} y={574} size={12}><IDiff /></T>
      <T x={297} y={574} size={12}><IDiff /></T>
      <T x={503} y={574} size={12}><IDiff /></T>
      <T x={700} y={574} size={12}><IDiff /></T>
      <LegLine x={97} y={522} w={10} color={BLUE} size={10}>{actInf('1')}</LegLine>
      <LegLine x={97} y={535} w={10} color={GREEN} size={10}>{actInf('2')}</LegLine>
      <LegLine x={307} y={523} w={12} color={BLUE} size={10}>{errInf('1')}</LegLine>
      <LegLine x={307} y={537} w={12} color={GREEN} size={10}>{errInf('2', true)}</LegLine>
    </div>
  );
}
